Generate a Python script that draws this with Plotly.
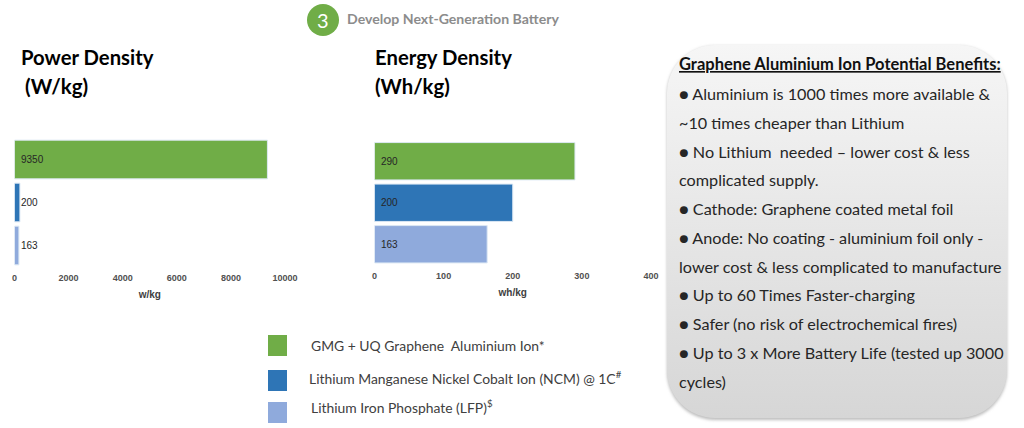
import base64
import plotly.graph_objects as go

W, H = 1024, 428

# ---- data ----
categories = ["GMG + UQ Graphene Aluminium Ion", "Lithium Manganese Nickel Cobalt Ion (NCM)", "Lithium Iron Phosphate (LFP)"]
power_density = [9350, 200, 163]
energy_density = [290, 200, 163]
power_ticks = [0, 2000, 4000, 6000, 8000, 10000]
energy_ticks = [0, 100, 200, 300, 400]
series_colors = ["#70AD47", "#2E75B6", "#8FAADC"]
legend_labels = [
    "GMG + UQ Graphene  Aluminium Ion*",
    "Lithium Manganese Nickel Cobalt Ion (NCM) @ 1C<sup>#</sup>",
    "Lithium Iron Phosphate (LFP)<sup>$</sup>",
]
benefits_title = "Graphene Aluminium Ion Potential Benefits:"
benefits_lines = [
    "● Aluminium is 1000 times more available &",
    "~10 times cheaper than Lithium",
    "● No Lithium  needed – lower cost & less",
    "complicated supply.",
    "● Cathode: Graphene coated metal foil",
    "● Anode: No coating - aluminium foil only -",
    "lower cost & less complicated to manufacture",
    "● Up to 60 Times Faster-charging",
    "● Safer (no risk of electrochemical fires)",
    "● Up to 3 x More Battery Life (tested up 3000",
    "cycles)",
]


def fx(px):
    return px / W


def fy(py):
    return 1 - py / H


TEXT_FONT = "Lato, Carlito, sans-serif"
CHART_FONT = "Liberation Sans, Arial, sans-serif"

fig = go.Figure()
fig.add_trace(go.Bar(y=categories, x=power_density, orientation="h", xaxis="x", yaxis="y",
                     marker=dict(color=series_colors, line=dict(color="#DCE8F4", width=1)),
                     width=0.9, hoverinfo="x+y", showlegend=False))
fig.add_trace(go.Bar(y=categories, x=energy_density, orientation="h", xaxis="x2", yaxis="y2",
                     marker=dict(color=series_colors, line=dict(color="#DCE8F4", width=1)),
                     width=0.9, hoverinfo="x+y", showlegend=False))

tick_font = dict(family=CHART_FONT, size=9, color="#505050", weight="bold")
title_font = dict(family=CHART_FONT, size=10, color="#404040", weight="bold")


def x_axis(domain, rng, ticks, title, anchor):
    return dict(domain=domain, range=rng, tickvals=ticks, tickformat="d", showgrid=False, zeroline=False,
                showline=False, automargin=False, ticks="outside", ticklen=2, tickcolor="rgba(0,0,0,0)",
                tickfont=tick_font, anchor=anchor, title=dict(text=title, font=title_font, standoff=9))


def y_axis(domain, anchor):
    return dict(domain=domain, type="category", categoryorder="array", categoryarray=categories[::-1],
                automargin=False, showticklabels=False, showgrid=False, zeroline=False, showline=False,
                ticks="", anchor=anchor)


annotations = []


def note(x, y, text, size, color="#000000", family=TEXT_FONT, xanchor="left"):
    annotations.append(dict(x=fx(x), y=fy(y), xref="paper", yref="paper", text=text, showarrow=False,
                            xanchor=xanchor, yanchor="middle", align="left",
                            font=dict(family=family, size=size, color=color)))


# value labels anchored to the zero of each axis
for axis_x, axis_y, values in (("x", "y", power_density), ("x2", "y2", energy_density)):
    for cat, val in zip(categories, values):
        annotations.append(dict(x=0, y=cat, xref=axis_x, yref=axis_y, text=str(val), showarrow=False,
                                xanchor="left", xshift=4, yanchor="middle",
                                font=dict(family=CHART_FONT, size=10, color="#262626")))

note(19, 57, "<b>Power Density</b>", 20.3)
note(23, 86, "<b>(W/kg)</b>", 20.5)
note(372.5, 57, "<b>Energy Density</b>", 20.3)
note(373, 86, "<b>(Wh/kg)</b>", 20.3)
note(345, 19, "<b>Develop Next-Generation Battery</b>", 14.1, color="#8C8C8C")
note(323, 20, "3", 20, color="#FFFFFF", xanchor="center")

# legend
swatch_y = [(335, 356), (370, 391), (402, 423)]
legend_text_pos = [(309, 345.5), (307, 377.5), (309, 406.5)]
shapes = [dict(type="circle", xref="paper", yref="paper", x0=fx(307), x1=fx(339), y0=fy(36), y1=fy(4),
               fillcolor="#70AD47", line=dict(width=0), layer="below")]
for color, (y0, y1), (tx, ty), label in zip(series_colors, swatch_y, legend_text_pos, legend_labels):
    shapes.append(dict(type="rect", xref="paper", yref="paper", x0=fx(268), x1=fx(287), y0=fy(y1), y1=fy(y0),
                       fillcolor=color, line=dict(width=0)))
    note(tx, ty, label, 13.9, color="#404040")

# benefits text
note(677, 64.5, "<b><u>%s</u></b>" % benefits_title, 16.5, color="#111111")
line_y = [93.5, 122.5, 151.5, 179.5, 208.5, 237.5, 266.5, 294.5, 323.5, 352.5, 381.5]
for y, line in zip(line_y, benefits_lines):
    note(677, y, line, 16.2, color="#262626")

# rounded gradient panel as a background picture
svg = f"""<svg xmlns='http://www.w3.org/2000/svg' width='{W}' height='{H}' viewBox='0 0 {W} {H}'>
<defs><linearGradient id='g' x1='0' y1='0' x2='0' y2='1'><stop offset='0' stop-color='#F6F6F6'/>
<stop offset='1' stop-color='#D6D6D6'/></linearGradient>
<filter id='s' x='-5%' y='-5%' width='110%' height='110%'><feGaussianBlur stdDeviation='1.5'/></filter></defs>
<rect x='667' y='46' width='340' height='374' rx='48' ry='48' fill='#BDBDBD' filter='url(#s)'/>
<rect x='667' y='45' width='340' height='373' rx='48' ry='48' fill='url(#g)'/>
</svg>"""
panel = "data:image/svg+xml;base64," + base64.b64encode(svg.encode()).decode()

fig.update_layout(
    width=W, height=H, margin=dict(l=0, r=0, t=0, b=0), paper_bgcolor="white", plot_bgcolor="rgba(0,0,0,0)",
    showlegend=False,
    xaxis=x_axis([fx(14.5), fx(285)], [0, 10000], power_ticks, "w/kg", "y"),
    yaxis=y_axis([fy(267), fy(138)], "x"),
    xaxis2=x_axis([fx(374.5), fx(651)], [0, 400], energy_ticks, "wh/kg", "y2"),
    yaxis2=y_axis([fy(265), fy(140.5)], "x2"),
    annotations=annotations, shapes=shapes,
    images=[dict(source=panel, xref="paper", yref="paper", x=0, y=1, sizex=1, sizey=1, sizing="stretch",
                 xanchor="left", yanchor="top", layer="below")],
)

fig.write_html("out.html", config=dict(displayModeBar=False),
               post_script="document.body.style.margin='0';")
